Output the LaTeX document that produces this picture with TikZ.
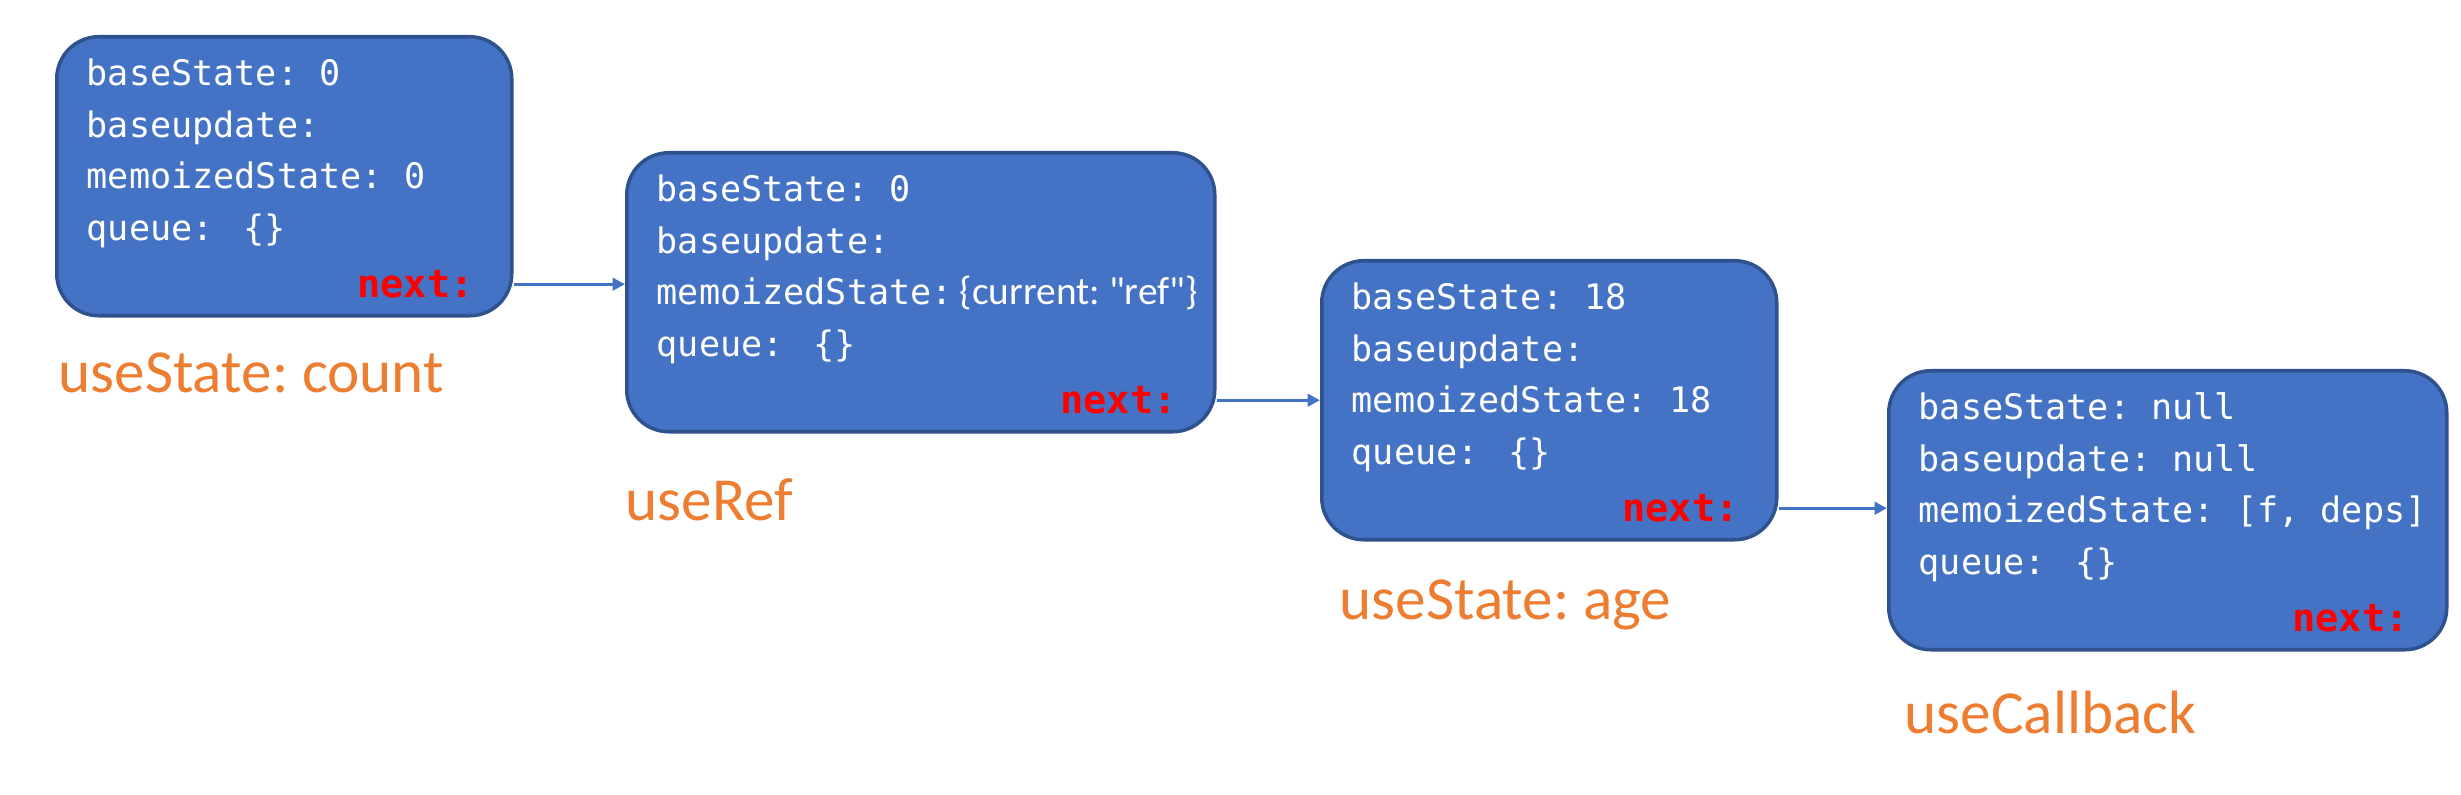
\documentclass[tikz,border=0pt]{standalone}
\usepackage{fontspec}
\usepackage{tikz}
\usetikzlibrary{arrows.meta,positioning}
\newfontfamily\codefont{DejaVu Sans Mono}
\newfontfamily\labelfont{Carlito}
\definecolor{hookblue}{HTML}{4472C4}
\definecolor{hookedge}{HTML}{2F528F}
\definecolor{hookorange}{HTML}{ED7D31}
\frenchspacing

\begin{document}
\begin{tikzpicture}[
  hookbox/.style={draw=hookedge, line width=1pt, fill=hookblue,
    rounded corners=0.42cm, minimum height=2.79cm, anchor=north west, inner sep=0pt},
  fields/.style={anchor=north west, inner sep=0pt, align=left, text=white,
    font=\codefont\fontsize{10}{14.7}\selectfont},
  nextptr/.style={anchor=base east, inner sep=0pt, text=red,
    font=\codefont\bfseries\fontsize{11}{13}\selectfont},
  hookname/.style={anchor=west, inner sep=0pt, text=hookorange,
    font=\labelfont\fontsize{17.4}{20}\selectfont},
  link/.style={draw=hookblue, line width=0.9pt, -{Triangle[length=3.5pt,width=3.5pt]}}]
\useasboundingbox (0,0) rectangle (24.61,-7.95);
% Hook 1: useState count
\node[hookbox, minimum width=4.55cm] (b1) at (0.55,-0.35) {};
\node[fields] (f1) at ([shift={(0.31,-0.23)}]b1.north west)
  {baseState: 0\\baseupdate:\\memoizedState: 0\\queue:\hspace{0.85em}\{\}};
\node[nextptr] (n1) at ([shift={(-0.39,0.20)}]b1.south east) {next:};
\node[hookname] (l1) at ([shift={(0.03,-0.55)}]b1.south west) {useState: count};
% Hook 2: useRef
\node[hookbox, minimum width=5.88cm] (b2) at (6.25,-1.51) {};
\node[fields] (f2) at ([shift={(0.31,-0.23)}]b2.north west)
  {baseState: 0\\baseupdate:\\memoizedState:\hspace{2pt}{\labelfont\fontsize{11.2}{14.7}\selectfont\{current: "ref"\}}\\queue:\hspace{0.85em}\{\}};
\node[nextptr] (n2) at ([shift={(-0.39,0.20)}]b2.south east) {next:};
\node[hookname] (l2) at ([shift={(0.0,-0.66)}]b2.south west) {useRef};
% Hook 3: useState age
\node[hookbox, minimum width=4.55cm] (b3) at (13.20,-2.59) {};
\node[fields] (f3) at ([shift={(0.31,-0.23)}]b3.north west)
  {baseState: 18\\baseupdate:\\memoizedState: 18\\queue:\hspace{0.85em}\{\}};
\node[nextptr] (n3) at ([shift={(-0.39,0.20)}]b3.south east) {next:};
\node[hookname] (l3) at ([shift={(0.19,-0.63)}]b3.south west) {useState: age};
% Hook 4: useCallback
\node[hookbox, minimum width=5.58cm] (b4) at (18.87,-3.69) {};
\node[fields] (f4) at ([shift={(0.31,-0.23)}]b4.north west)
  {baseState: null\\baseupdate: null\\memoizedState: [f, deps]\\queue:\hspace{0.85em}\{\}};
\node[nextptr] (n4) at ([shift={(-0.39,0.20)}]b4.south east) {next:};
\node[hookname] (l4) at ([shift={(0.17,-0.61)}]b4.south west) {useCallback};
% next pointers
\draw[link] (n1 -| b1.east) -- (n1 -| b2.west);
\draw[link] (n2 -| b2.east) -- (n2 -| b3.west);
\draw[link] (n3 -| b3.east) -- (n3 -| b4.west);
\end{tikzpicture}
\end{document}
